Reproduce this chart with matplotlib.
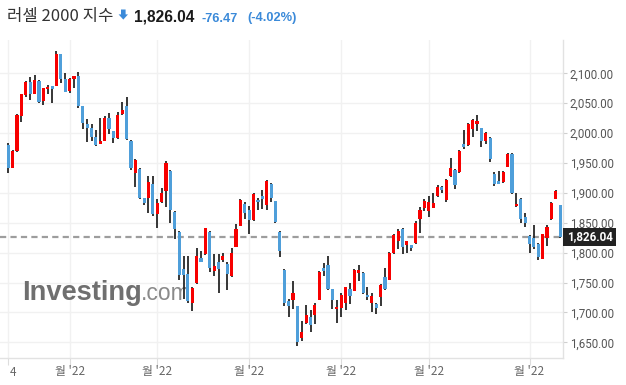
import matplotlib
matplotlib.use("Agg")
import matplotlib.pyplot as plt
from matplotlib.patches import Polygon, Rectangle
import matplotlib.transforms as mtransforms
import numpy as np

# ---------------- data (daily candles) ----------------
opens = [1980, 1942, 1970, 2028, 2064, 2085, 2066, 2087, 2054, 2073,
         2079, 2079, 2132, 2090, 2070, 2090, 2095, 2045, 2016, 2008,
         1993, 1982, 1987, 2025, 2003, 1991, 2032, 2046, 1987, 1934,
         1940, 1891, 1892, 1915, 1864, 1884, 1903, 1937, 1868, 1835,
         1773, 1764, 1715, 1750, 1791, 1797, 1835, 1770, 1784, 1787,
         1781, 1761, 1810, 1845, 1882, 1871, 1855, 1888, 1895, 1880,
         1915, 1886, 1835, 1771, 1719, 1720, 1710, 1658, 1683, 1692,
         1695, 1721, 1775, 1779, 1739, 1705, 1707, 1716, 1739, 1736,
         1766, 1766, 1729, 1716, 1714, 1725, 1759, 1755, 1799, 1820,
         1840, 1812, 1812, 1816, 1856, 1875, 1870, 1875, 1895, 1909,
         1888, 1929, 1938, 1935, 1982, 1980, 2007, 2016, 2008, 1987,
         1992, 1932, 1920, 1918, 1944, 1965, 1878, 1890, 1859, 1828,
         1824, 1814, 1790, 1824, 1857, 1890, 1880]
highs = [1983, 1971, 2032, 2066, 2087, 2093, 2097, 2088, 2076, 2080,
         2079, 2138, 2133, 2100, 2092, 2096, 2103, 2046, 2023, 2016,
         2005, 2026, 2028, 2033, 2004, 2035, 2052, 2060, 1988, 1956,
         1941, 1892, 1928, 1928, 1889, 1908, 1953, 1938, 1869, 1836,
         1795, 1795, 1742, 1807, 1803, 1842, 1836, 1797, 1797, 1799,
         1785, 1807, 1848, 1889, 1884, 1878, 1899, 1891, 1905, 1921,
         1916, 1887, 1836, 1772, 1722, 1753, 1711, 1686, 1712, 1704,
         1715, 1769, 1782, 1794, 1740, 1721, 1732, 1743, 1749, 1772,
         1780, 1767, 1743, 1733, 1715, 1747, 1774, 1801, 1832, 1840,
         1842, 1820, 1813, 1853, 1877, 1889, 1895, 1900, 1913, 1911,
         1923, 1959, 1940, 1972, 2005, 2017, 2023, 2030, 2009, 2002,
         1993, 1935, 1937, 1936, 1966, 1966, 1899, 1891, 1866, 1830,
         1847, 1816, 1832, 1846, 1885, 1905, 1880]
lows = [1933, 1941, 1969, 2019, 2060, 2055, 2065, 2051, 2047, 2065,
        2050, 2078, 2084, 2068, 2067, 2076, 2042, 2006, 1985, 1987,
        1978, 1981, 1986, 1999, 1983, 1990, 2031, 1988, 1939, 1909,
        1889, 1880, 1866, 1862, 1841, 1883, 1876, 1850, 1822, 1755,
        1722, 1716, 1703, 1748, 1784, 1796, 1767, 1761, 1732, 1785,
        1737, 1759, 1809, 1844, 1857, 1831, 1853, 1872, 1873, 1872,
        1884, 1850, 1793, 1711, 1693, 1705, 1643, 1653, 1681, 1667,
        1681, 1720, 1761, 1738, 1705, 1682, 1692, 1704, 1714, 1735,
        1753, 1731, 1721, 1700, 1698, 1710, 1737, 1754, 1797, 1806,
        1798, 1800, 1802, 1815, 1833, 1869, 1860, 1874, 1893, 1900,
        1885, 1927, 1906, 1934, 1973, 1978, 1994, 2004, 1976, 1982,
        1952, 1911, 1914, 1917, 1943, 1898, 1877, 1849, 1843, 1800,
        1806, 1787, 1789, 1811, 1855, 1889, 1825]
closes = [1942, 1970, 2030, 2065, 2085, 2066, 2088, 2052, 2075, 2077,
          2074, 2132, 2090, 2069, 2090, 2095, 2046, 2017, 2009, 1994,
          1980, 1987, 2025, 2006, 1991, 2030, 2039, 1990, 1941, 1955,
          1891, 1883, 1918, 1865, 1883, 1900, 1950, 1871, 1840, 1763,
          1763, 1719, 1741, 1794, 1785, 1841, 1775, 1778, 1773, 1794,
          1765, 1799, 1839, 1888, 1866, 1855, 1898, 1884, 1890, 1920,
          1892, 1852, 1802, 1716, 1710, 1732, 1650, 1667, 1695, 1679,
          1712, 1768, 1770, 1740, 1720, 1709, 1729, 1742, 1728, 1771,
          1771, 1733, 1725, 1727, 1708, 1746, 1740, 1800, 1829, 1837,
          1809, 1819, 1807, 1849, 1872, 1886, 1885, 1883, 1909, 1905,
          1922, 1941, 1913, 1970, 1976, 2016, 2022, 2020, 1987, 2000,
          1957, 1915, 1915, 1935, 1965, 1900, 1882, 1857, 1850, 1814,
          1809, 1793, 1831, 1843, 1883, 1903, 1826.04]

title_name = "러셀 2000 지수"
last_price = 1826.04
change = -76.47
change_pct = -4.02
y_ticks = [1650, 1700, 1750, 1800, 1850, 1900, 1950, 2000, 2050, 2100]
x_tick_idx = [0, 14, 34, 55, 76, 96, 119]
x_tick_labels = ["4", "월 '22", "월 '22", "월 '22", "월 '22", "월 '22", "월 '22"]

# ---------------- styling ----------------
RED = "#f70000"
BLUE = "#4f9fda"
WICK = "#262626"
CHG_BLUE = "#3b8ad9"
CJK = ["Noto Sans CJK KR", "DejaVu Sans"]

W, H = 626, 385
fig = plt.figure(figsize=(W / 100, H / 100), dpi=100)
fig.patch.set_facecolor("white")


def fx(px):
    return px / W


def fy(py):
    return 1 - py / H


ax_l, ax_r, ax_t, ax_b = 0, 563, 40, 358
ax = fig.add_axes([fx(ax_l), fy(ax_b), fx(ax_r) - fx(ax_l), fy(ax_t) - fy(ax_b)])

step = 4.38
x0 = 8.3
ax.set_xlim((ax_l - x0) / step, (ax_r - x0) / step)
val_per_px = 450 / 269.0
ax.set_ylim(2100 - (ax_b - 73.3) * val_per_px, 2100 + (73.3 - ax_t) * val_per_px)

o = np.array(opens, float)
h = np.array(highs, float)
l = np.array(lows, float)
c = np.array(closes, float)
x = np.arange(len(o))
up = c >= o
cols = np.where(up, RED, BLUE)

ax.vlines(x, l, h, color=WICK, lw=1.3, zorder=3, capstyle="butt")
bottom = np.minimum(o, c)
height = np.maximum(np.abs(c - o), 2.6)
ax.bar(x, height, 0.72, bottom=bottom, color=cols, linewidth=0, zorder=4)

# last price dashed line
ax.axhline(last_price, color="#9d9d9d", lw=1.6, dashes=(2.8, 1.9), zorder=2)

# grid / spines
ax.set_yticks(y_ticks)
ax.yaxis.tick_right()
ax.set_yticklabels([f"{v:,.2f}" for v in y_ticks], fontfamily="Roboto",
                   fontsize=8.3, color="#555555")
ax.tick_params(axis="y", length=3, color="#cfcfcf", pad=1.8)
ax.set_xticks(x_tick_idx)
ax.set_xticklabels([])
ax.tick_params(axis="x", length=5, color="#dddddd")
ax.grid(True, color="#f1f1f1", lw=1.0, zorder=0)
ax.set_axisbelow(True)
for s in ["top", "left"]:
    ax.spines[s].set_visible(False)
for s in ["right", "bottom"]:
    ax.spines[s].set_color("#e2e2e2")
    ax.spines[s].set_linewidth(1.0)

# x labels
trans_x = mtransforms.blended_transform_factory(ax.transData, fig.transFigure)
for i, lab in zip(x_tick_idx, x_tick_labels):
    xi = i + 1.1 if lab == "4" else i
    ax.text(xi, fy(372), lab, transform=trans_x, ha="center", va="center",
            fontsize=8.5, color="#666666", family=CJK, clip_on=False)

# last price label box
fig.patches.append(Rectangle((fx(563), fy(246)), fx(616) - fx(563), fy(228) - fy(246),
                             transform=fig.transFigure, facecolor="#222222",
                             edgecolor="none", zorder=5))
fig.text(fx(589.5), fy(237), f"{last_price:,.2f}", ha="center", va="center",
         fontsize=8.4, color="white", weight="bold", family="Roboto", zorder=6)

# watermark (behind candles)
wm = ax.text(fx(22), fy(300), "Investing", transform=fig.transFigure, ha="left",
             va="baseline", fontsize=19.6, weight="bold", family="Liberation Sans",
             color="#6f6f6f", zorder=1)
fig.canvas.draw()
bb = wm.get_window_extent()
ax.text(bb.x1 / W - fx(0.5), fy(300), ".com", transform=fig.transFigure, ha="left",
        va="baseline", fontsize=16.5, family="Liberation Sans", color="#8a8a8a", zorder=1)

# title
fig.text(fx(7), fy(21.5), title_name, ha="left", va="baseline", fontsize=12,
         color="#333333", family=CJK)
arrow = [(121.0, 9.5), (125.6, 9.5), (125.6, 14.4), (128.0, 14.4), (123.3, 19.6),
         (118.6, 14.4), (121.0, 14.4)]
fig.patches.append(Polygon([(fx(a), fy(b)) for a, b in arrow], closed=True,
                           transform=fig.transFigure, facecolor=CHG_BLUE,
                           edgecolor="none"))
fig.text(fx(134), fy(21.5), f"{last_price:,.2f}", ha="left", va="baseline",
         fontsize=11.2, color="#1a1a1a", weight="bold", family="Liberation Sans")
fig.text(fx(202), fy(21.5), f"{change:.2f}", ha="left", va="baseline",
         fontsize=9.2, color=CHG_BLUE, weight="bold", family="Liberation Sans")
fig.text(fx(247), fy(21.5), f"({change_pct:.2f}%)", ha="left", va="baseline",
         fontsize=9.2, color=CHG_BLUE, weight="bold", family="Liberation Sans")

fig.savefig("out.png", dpi=100, facecolor="white")
